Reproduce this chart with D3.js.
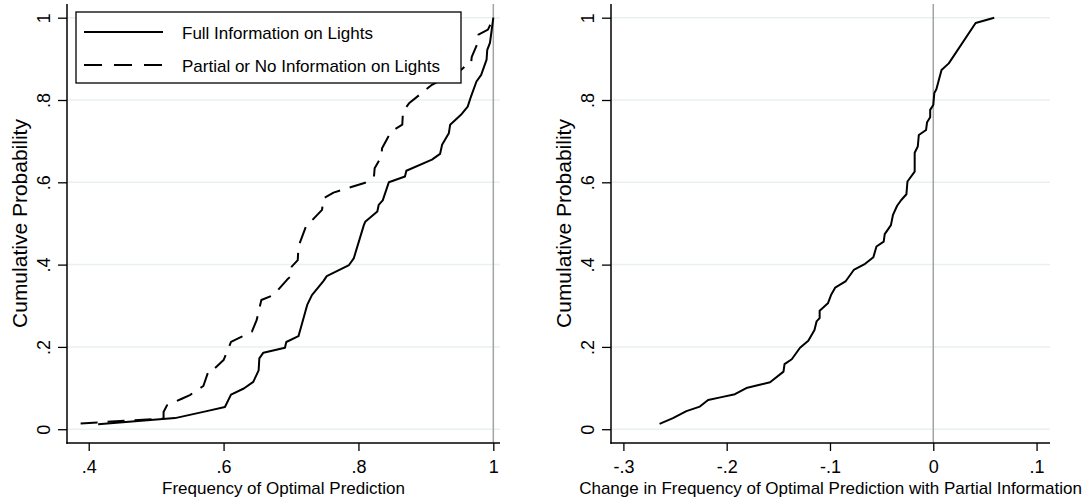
<!DOCTYPE html>
<html>
<head>
<meta charset="utf-8">
<script src="https://cdn.jsdelivr.net/npm/d3@7"></script>
<style>
  html, body { margin: 0; padding: 0; background: #fff; }
  svg { display: block; }
  text { font-family: "Liberation Sans", Arial, Helvetica, sans-serif; fill: #000; }
</style>
</head>
<body>
<svg id="chart" width="1086" height="502"></svg>
<script>
// ---------- data ----------
const fullInfoX = [0.414,0.528,0.575,0.602,0.611,0.630,0.644,0.652,0.653,0.659,0.691,0.693,0.711,0.715,0.724,0.731,0.748,0.753,0.786,0.793,0.808,0.810,0.828,0.830,0.836,0.845,0.869,0.871,0.909,0.921,0.924,0.934,0.936,0.952,0.962,0.967,0.975,0.982,0.990,0.991,0.995,0.998,1.0];
const fullInfoP = [0.012,0.027,0.044,0.054,0.084,0.099,0.115,0.143,0.172,0.186,0.198,0.212,0.226,0.249,0.302,0.326,0.360,0.372,0.399,0.415,0.496,0.504,0.529,0.545,0.556,0.600,0.614,0.628,0.655,0.669,0.691,0.719,0.740,0.764,0.784,0.809,0.845,0.861,0.898,0.922,0.939,0.975,1.0];

const partialInfoX = [0.388,0.511,0.511,0.516,0.538,0.550,0.570,0.578,0.585,0.600,0.611,0.627,0.642,0.649,0.656,0.674,0.694,0.699,0.701,0.710,0.711,0.722,0.746,0.748,0.763,0.810,0.823,0.824,0.834,0.835,0.845,0.852,0.865,0.866,0.875,0.909,0.952,0.961,0.967,0.968,0.977,0.978,0.992,0.999,1.0];
const partialInfoP = [0.014,0.026,0.042,0.058,0.074,0.083,0.105,0.143,0.145,0.168,0.212,0.225,0.237,0.265,0.314,0.326,0.363,0.371,0.395,0.411,0.444,0.492,0.533,0.561,0.575,0.599,0.614,0.634,0.663,0.683,0.713,0.727,0.740,0.772,0.792,0.837,0.873,0.886,0.889,0.905,0.939,0.959,0.971,0.995,1.0];

const changeX = [-0.265,-0.252,-0.239,-0.226,-0.218,-0.205,-0.192,-0.181,-0.168,-0.158,-0.145,-0.144,-0.137,-0.129,-0.121,-0.115,-0.113,-0.110,-0.110,-0.102,-0.099,-0.095,-0.085,-0.077,-0.066,-0.058,-0.055,-0.048,-0.047,-0.041,-0.039,-0.035,-0.031,-0.026,-0.025,-0.018,-0.018,-0.015,-0.014,-0.007,-0.006,-0.003,-0.003,0.000,0.001,0.003,0.005,0.008,0.015,0.041,0.059];
const changeP = [0.013,0.027,0.044,0.055,0.071,0.078,0.085,0.100,0.108,0.114,0.140,0.158,0.170,0.198,0.215,0.241,0.262,0.270,0.288,0.306,0.326,0.344,0.359,0.387,0.402,0.418,0.444,0.456,0.474,0.496,0.521,0.543,0.557,0.571,0.602,0.626,0.672,0.687,0.715,0.727,0.746,0.758,0.776,0.788,0.817,0.826,0.845,0.873,0.889,0.987,1.0];

const yTicks = [0, 0.2, 0.4, 0.6, 0.8, 1];
const yTickLabels = ["0", ".2", ".4", ".6", ".8", "1"];
const leftXTicks = [0.4, 0.6, 0.8, 1];
const leftXTickLabels = [".4", ".6", ".8", "1"];
const rightXTicks = [-0.3, -0.2, -0.1, 0, 0.1];
const rightXTickLabels = ["-.3", "-.2", "-.1", "0", ".1"];
const seriesNames = ["Full Information on Lights", "Partial or No Information on Lights"];
const leftXTitle = "Frequency of Optimal Prediction";
const rightXTitle = "Change in Frequency of Optimal Prediction with Partial Information";
const yTitle = "Cumulative Probability";
const leftRefLine = 1;
const rightRefLine = 0;

// ---------- layout ----------
const svg = d3.select("#chart");
const plotTop = 4, plotBottom = 443;
const gridColor = "#e9f0f2";
const refColor = "#a3a3a3";
const dashPattern = "17,10";

const yScaleFor = () => d3.scaleLinear().domain([-0.0335, 1.0333]).range([plotBottom, plotTop]);

function panel(opts) {
  const g = svg.append("g");
  const x = d3.scaleLinear().domain(opts.xDomain).range([opts.left, opts.right]);
  const y = yScaleFor();

  // gridlines
  g.selectAll("line.grid").data(yTicks).enter().append("line")
    .attr("x1", opts.left).attr("x2", opts.right)
    .attr("y1", d => y(d)).attr("y2", d => y(d))
    .attr("stroke", gridColor).attr("stroke-width", 1.5);

  // reference vertical line
  g.append("line")
    .attr("x1", x(opts.ref)).attr("x2", x(opts.ref))
    .attr("y1", plotTop).attr("y2", plotBottom)
    .attr("stroke", refColor).attr("stroke-width", 1.5);

  // y axis
  const yAxis = d3.axisLeft(y).tickValues(yTicks).tickSize(9).tickFormat((d, i) => yTickLabels[i]);
  const ya = g.append("g").attr("transform", `translate(${opts.left},0)`).call(yAxis);
  ya.select(".domain").remove();
  ya.selectAll(".tick line").attr("stroke", "#000").attr("stroke-width", 1.3);
  ya.selectAll(".tick text")
    .attr("x", 0).attr("dy", null)
    .attr("transform", `translate(-17,0) rotate(-90)`)
    .attr("text-anchor", "middle")
    .attr("y", 0)
    .style("font-size", "18px")
    .style("font-family", "'Liberation Sans', Arial, Helvetica, sans-serif");

  // x axis
  const xAxis = d3.axisBottom(x).tickValues(opts.xTicks).tickSize(8).tickFormat((d, i) => opts.xTickLabels[i]);
  const xa = g.append("g").attr("transform", `translate(0,${plotBottom})`).call(xAxis);
  xa.select(".domain").remove();
  xa.selectAll(".tick line").attr("stroke", "#000").attr("stroke-width", 1.3);
  xa.selectAll(".tick text")
    .attr("y", 30).attr("dy", null)
    .style("font-size", "18px")
    .style("font-family", "'Liberation Sans', Arial, Helvetica, sans-serif");

  // axis lines
  g.append("line").attr("x1", opts.left).attr("x2", opts.left).attr("y1", plotTop).attr("y2", plotBottom + 0.7)
    .attr("stroke", "#000").attr("stroke-width", 1.5);
  g.append("line").attr("x1", opts.left - 0.7).attr("x2", opts.right).attr("y1", plotBottom).attr("y2", plotBottom)
    .attr("stroke", "#000").attr("stroke-width", 1.5);

  // series
  const line = d3.line().x(d => x(d[0])).y(d => y(d[1]));
  opts.series.forEach(s => {
    g.append("path").datum(d3.zip(s.xs, s.ps))
      .attr("d", line)
      .attr("fill", "none").attr("stroke", "#000").attr("stroke-width", 2)
      .attr("stroke-linejoin", "round")
      .attr("stroke-dasharray", s.dash || null);
  });

  // titles
  g.append("text")
    .attr("x", (opts.left + opts.right) / 2).attr("y", 494)
    .attr("text-anchor", "middle")
    .style("font-size", "17px")
    .text(opts.xTitle);
  g.append("text")
    .attr("transform", `translate(${opts.left - 40},${(plotTop + plotBottom) / 2}) rotate(-90)`)
    .attr("text-anchor", "middle")
    .style("font-size", "21px")
    .text(yTitle);
  return g;
}

panel({
  left: 67, right: 500,
  xDomain: [0.3678, 1.0099],
  xTicks: leftXTicks, xTickLabels: leftXTickLabels,
  ref: leftRefLine,
  xTitle: leftXTitle,
  series: [
    { xs: fullInfoX, ps: fullInfoP },
    { xs: partialInfoX, ps: partialInfoP, dash: dashPattern }
  ]
});

panel({
  left: 611, right: 1050,
  xDomain: [-0.312, 0.113],
  xTicks: rightXTicks, xTickLabels: rightXTickLabels,
  ref: rightRefLine,
  xTitle: rightXTitle,
  series: [ { xs: changeX, ps: changeP } ]
});

// legend (left panel)
const lg = svg.append("g");
lg.append("rect").attr("x", 76).attr("y", 12).attr("width", 385).attr("height", 71)
  .attr("fill", "#fff").attr("stroke", "#000").attr("stroke-width", 1.3);
const legendRows = [
  { name: seriesNames[0], dash: null, y: 32 },
  { name: seriesNames[1], dash: "18,12", y: 65 }
];
legendRows.forEach(r => {
  lg.append("line").attr("x1", 84).attr("x2", 163).attr("y1", r.y).attr("y2", r.y)
    .attr("stroke", "#000").attr("stroke-width", 1.8).attr("stroke-dasharray", r.dash);
  lg.append("text").attr("x", 182).attr("y", r.y + 6.5)
    .style("font-size", "17px").text(r.name);
});
</script>
</body>
</html>
